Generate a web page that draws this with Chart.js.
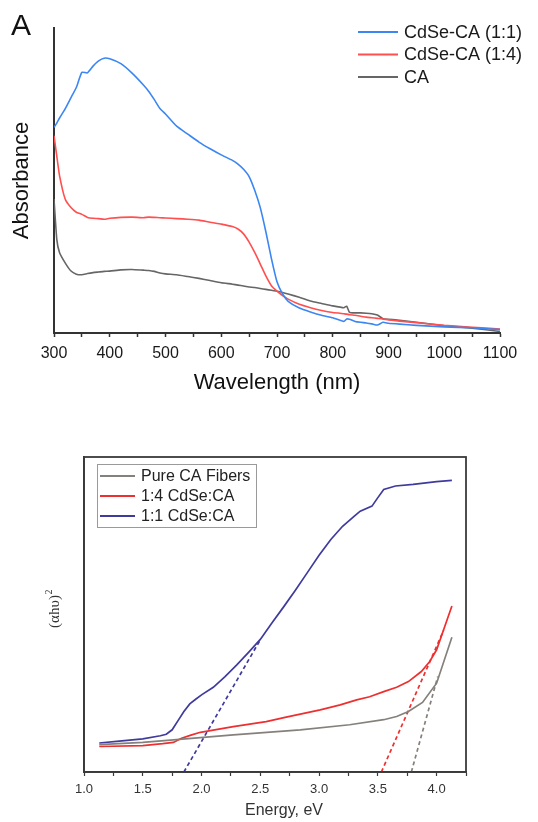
<!DOCTYPE html>
<html>
<head>
<meta charset="utf-8">
<script src="https://cdn.jsdelivr.net/npm/chart.js@4/dist/chart.umd.min.js"></script>
<style>
  html, body { margin: 0; padding: 0; background: #fff; }
  #wrap { position: relative; width: 538px; height: 822px; }
  #uv { position: absolute; left: 0; top: 0; }
  #tauc { position: absolute; left: 0; top: 400px; }
</style>
</head>
<body>
<div id="wrap">
  <canvas id="uv" width="538" height="400" style="width:538px;height:400px"></canvas>
  <canvas id="tauc" width="538" height="422" style="width:538px;height:422px"></canvas>
</div>
<script>
// ---- Panel A: UV-Vis absorbance (arbitrary units, 0-100) ----
const wavelength = [300,305,310,320,330,340,350,360,370,380,390,400,420,440,460,470,480,490,500,520,540,560,580,600,620,630,640,650,660,670,680,690,700,710,720,740,760,780,800,820,825,830,840,850,860,870,880,890,900,920,950,1000,1050,1100];
const absCdSe11 = [67.4,68.8,70.5,73.5,77,80.5,85.5,85.3,87.5,89.2,90.1,89.9,88.3,85.2,81.4,79.2,76.5,73.6,71.8,67.8,65.2,62.6,60.4,58.4,56.6,55.4,53.7,51.3,46.8,41.1,33.2,24.4,16.8,12.8,10.4,8.2,6.9,5.8,5.0,3.8,4.6,4.5,3.8,3.5,3.3,3.0,2.6,3.5,3.2,2.9,2.5,2.0,1.7,1.1];
const absCdSe14 = [64.7,58,51.5,43.9,41.2,39.6,38.9,37.9,37.6,37.5,37.3,37.6,37.9,38,37.8,38,37.9,37.8,37.7,37.5,37.3,37,36.3,35.7,34.9,34.1,32.5,29.8,26.4,22.6,18.7,15.5,13.7,12.3,11.1,9.4,8.3,7.4,6.7,6.3,6.2,6.0,5.8,5.5,5.2,5.0,4.8,4.6,4.3,3.9,3.4,2.5,1.9,1.3];
const absCA = [43.9,30.7,26.3,23,20.4,19.3,19.1,19.5,19.8,20,20.2,20.3,20.7,20.8,20.6,20.5,20.2,19.7,19.4,19.1,18.5,17.9,17.2,16.5,16,15.7,15.4,15.1,14.9,14.6,14.3,14,13.7,13.3,12.8,11.7,10.5,9.7,8.9,8.3,8.8,6.8,6.6,6.6,6.5,6.3,5.9,4.7,4.5,4.2,3.5,2.4,1.6,0.5];
const uvLabels = ['CdSe-CA (1:1)', 'CdSe-CA (1:4)', 'CA'];

// ---- Panel B: Tauc plot, (alpha h nu)^2 vs photon energy ----
const energy11 = [1.13,1.3,1.5,1.65,1.7,1.75,1.8,1.85,1.9,1.95,2.0,2.1,2.2,2.3,2.4,2.5,2.6,2.7,2.8,2.9,3.0,3.1,3.2,3.3,3.35,3.45,3.5,3.55,3.65,3.8,4.0,4.13];
const tauc11 = [9.2,9.8,10.5,11.5,12,13.4,16.3,19.2,21.6,23.1,24.5,26.9,30.3,34,38,42.1,47.4,52.5,57.8,63.3,68.8,73.8,78,81.2,82.8,84.4,87.1,89.7,90.8,91.3,92.2,92.6];
const energy14 = [1.13,1.5,1.67,1.76,1.83,1.91,1.99,2.27,2.55,2.72,3.01,3.18,3.32,3.43,3.55,3.66,3.76,3.87,3.94,4.0,4.13];
const tauc14 = [8.1,8.4,9.0,9.4,10.7,11.7,12.6,14.4,16.0,17.4,19.7,21.3,22.9,23.9,25.5,26.9,28.7,31.9,35.0,38.8,52.7];
const energyCA = [1.13,1.5,1.76,2.27,2.84,3.26,3.55,3.66,3.76,3.88,4.0,4.13];
const taucCA = [8.7,9.4,10.2,11.8,13.4,15.0,16.6,17.6,19.2,22.1,28.2,42.8];
// linear band-edge extrapolations: [x0, x1] and [y0, y1]
const fit11X = [1.85, 2.50], fit11Y = [0, 42];
const fit14X = [3.53, 4.06], fit14Y = [0, 45];
const fitCAX = [3.785, 4.01], fitCAY = [0, 30.3];
const taucLabels = ['Pure CA Fibers', '1:4 CdSe:CA', '1:1 CdSe:CA'];

const SANS = '"Liberation Sans", Arial, sans-serif';
const SERIF = '"Liberation Serif", "Times New Roman", serif';
const pts = (xs, ys) => xs.map((x, i) => ({ x, y: ys[i] }));

// ---------- Panel A ----------
const uvColors = ['#3b86f2', '#ff4f4f', '#666666'];
const uvLegend = {
  id: 'uvLegend',
  afterDraw(chart) {
    const ctx = chart.ctx;
    ctx.save();
    // panel letter
    ctx.fillStyle = '#111';
    ctx.font = '30px ' + SANS;
    ctx.textBaseline = 'alphabetic';
    ctx.fillText('A', 11, 35);
    // legend
    ctx.font = '18px ' + SANS;
    ctx.textBaseline = 'middle';
    chart.data.datasets.forEach((ds, i) => {
      const y = 32 + i * 22.5;
      ctx.strokeStyle = ds.borderColor;
      ctx.lineWidth = 2;
      ctx.beginPath(); ctx.moveTo(358, y); ctx.lineTo(398, y); ctx.stroke();
      ctx.fillStyle = '#1a1a1a';
      ctx.fillText(ds.label, 404, y + 1);
    });
    ctx.restore();
  }
};

new Chart(document.getElementById('uv'), {
  type: 'line',
  data: {
    datasets: [absCdSe11, absCdSe14, absCA].map((vals, i) => ({
      label: uvLabels[i],
      data: pts(wavelength, vals),
      borderColor: uvColors[i],
      borderWidth: 1.6,
      pointRadius: 0,
      fill: false,
      tension: 0.15
    }))
  },
  options: {
    responsive: false,
    animation: false,
    layout: { padding: { top: 28, right: 38, left: 0, bottom: 0 } },
    plugins: { legend: { display: false }, tooltip: { enabled: false } },
    scales: {
      x: {
        type: 'linear', min: 300, max: 1100,
        afterFit(s) { s.height = 67; },
        grid: { drawOnChartArea: false, tickLength: 4, tickColor: '#333', tickWidth: 1.5 },
        border: { color: '#333', width: 2 },
        ticks: {
          stepSize: 50, autoSkip: false, maxRotation: 0, padding: 7,
          color: '#1a1a1a', font: { family: SANS, size: 16 },
          callback: v => (v % 100 === 0 ? String(v) : '')
        },
        title: { display: true, text: 'Wavelength (nm)', color: '#111', font: { family: SANS, size: 22 }, padding: { top: 0, bottom: 4 } }
      },
      y: {
        min: 0, max: 100,
        afterFit(s) { s.width = 54; },
        grid: { display: false },
        ticks: { display: false },
        border: { color: '#333', width: 2 },
        title: { display: true, text: 'Absorbance', color: '#111', font: { family: SANS, size: 22 }, padding: { top: 9, bottom: 0 } }
      }
    }
  },
  plugins: [uvLegend]
});

// ---------- Panel B ----------
const taucColors = ['#85807b', '#ee2f2f', '#3f3b9c'];
const taucDecor = {
  id: 'taucDecor',
  afterDraw(chart) {
    const ctx = chart.ctx;
    const a = chart.chartArea;
    ctx.save();
    // frame
    ctx.strokeStyle = '#3a3a3a';
    ctx.lineWidth = 1.8;
    ctx.strokeRect(a.left, a.top, a.right - a.left, a.bottom - a.top);
    // legend box
    ctx.strokeStyle = '#9a9a9a';
    ctx.lineWidth = 1;
    ctx.strokeRect(97.5, 64.5, 159, 63);
    ctx.font = '16px ' + SANS;
    ctx.textBaseline = 'middle';
    chart.data.datasets.slice(0, 3).forEach((ds, i) => {
      const y = 76 + i * 20;
      ctx.strokeStyle = ds.borderColor;
      ctx.lineWidth = 1.8;
      ctx.beginPath(); ctx.moveTo(100, y); ctx.lineTo(135, y); ctx.stroke();
      ctx.fillStyle = '#222';
      ctx.fillText(ds.label, 141, y + 1);
    });
    // axis titles
    ctx.fillStyle = '#333';
    ctx.textAlign = 'center';
    ctx.font = '16px ' + SANS;
    ctx.fillText('Energy, eV', 284, 411);
    ctx.translate(55, 209);
    ctx.rotate(-Math.PI / 2);
    ctx.font = '15px ' + SERIF;
    ctx.textAlign = 'left';
    const main = '(\u03b1h\u03c5)';
    const w = ctx.measureText(main).width;
    ctx.font = '10px ' + SERIF;
    const w2 = ctx.measureText('2').width;
    const x0 = -(w + w2) / 2;
    ctx.font = '15px ' + SERIF;
    ctx.fillText(main, x0, 0);
    ctx.font = '10px ' + SERIF;
    ctx.fillText('2', x0 + w + 0.5, -6);
    ctx.restore();
  }
};

const taucSeries = [[energyCA, taucCA], [energy14, tauc14], [energy11, tauc11]];
const fitSeries = [[fitCAX, fitCAY], [fit14X, fit14Y], [fit11X, fit11Y]];

new Chart(document.getElementById('tauc'), {
  type: 'line',
  data: {
    datasets: taucSeries.map((s, i) => ({
      label: taucLabels[i],
      data: pts(s[0], s[1]),
      borderColor: taucColors[i],
      borderWidth: 1.7,
      pointRadius: 0,
      fill: false,
      tension: 0
    })).concat(fitSeries.map((s, i) => ({
      label: taucLabels[i] + ' fit',
      data: pts(s[0], s[1]),
      borderColor: taucColors[i],
      borderWidth: 1.7,
      borderDash: [4, 3],
      pointRadius: 0,
      fill: false,
      tension: 0
    })))
  },
  options: {
    responsive: false,
    animation: false,
    layout: { padding: { top: 57, right: 72, left: 0, bottom: 0 } },
    plugins: { legend: { display: false }, tooltip: { enabled: false } },
    scales: {
      x: {
        type: 'linear', min: 1.0, max: 4.25,
        afterFit(s) { s.height = 50; },
        grid: { drawOnChartArea: false, tickLength: 4, tickColor: '#3a3a3a', tickWidth: 1.2 },
        border: { color: '#3a3a3a', width: 1.8 },
        ticks: {
          stepSize: 0.25, autoSkip: false, maxRotation: 0, padding: 6,
          color: '#333', font: { family: SANS, size: 13 },
          callback: v => (Math.abs(v * 2 - Math.round(v * 2)) < 1e-9 ? v.toFixed(1) : '')
        }
      },
      y: {
        min: 0, max: 100,
        afterFit(s) { s.width = 84; },
        grid: { display: false },
        ticks: { display: false },
        border: { color: '#3a3a3a', width: 1.8 }
      }
    }
  },
  plugins: [taucDecor]
});
</script>
</body>
</html>
